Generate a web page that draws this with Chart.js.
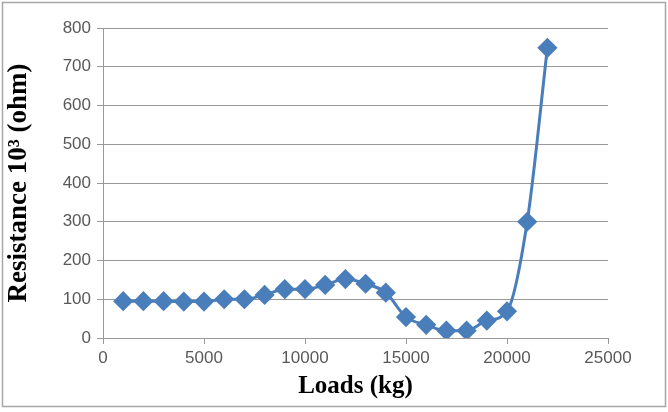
<!DOCTYPE html>
<html>
<head>
<meta charset="utf-8">
<script src="https://cdn.jsdelivr.net/npm/chart.js@4"></script>
<style>
  html, body { margin: 0; padding: 0; background: #fff; }
  #wrap { width: 668px; height: 412px; }
</style>
</head>
<body>
<div id="wrap"><canvas id="resChart" width="668" height="412"></canvas></div>
<script>
const loads = [1000, 2000, 3000, 4000, 5000, 6000, 7000, 8000, 9000, 10000, 11000,
  12000, 13000, 14000, 15000, 16000, 17000, 18000, 19000, 20000, 21000, 22000];
const resistance = [95, 95, 95, 94, 94, 100, 100, 111, 126, 126, 137,
  152, 140, 117, 54, 34, 19, 19, 45, 69, 300, 749];
const xTicks = [0, 5000, 10000, 15000, 20000, 25000];
const yTicks = [0, 100, 200, 300, 400, 500, 600, 700, 800];

const frame = {
  id: 'frame',
  beforeDraw(chart) {
    const c = chart.ctx;
    c.save();
    c.fillStyle = '#fff';
    c.fillRect(0, 0, chart.width, chart.height);
    c.strokeStyle = '#a6a6a6';
    c.lineWidth = 1.5;
    c.strokeRect(2.5, 2.5, chart.width - 5, chart.height - 8);
    c.restore();
  }
};

const blue = '#4a7ebb';
const tickFont = { family: 'Liberation Sans', size: 17 };
const titleFont = { family: 'Liberation Serif', size: 25, weight: 'bold' };

new Chart(document.getElementById('resChart'), {
  type: 'scatter',
  data: {
    datasets: [{
      data: loads.map((x, i) => ({ x, y: resistance[i] })),
      showLine: true,
      borderColor: blue,
      backgroundColor: blue,
      borderWidth: 3,
      cubicInterpolationMode: 'monotone',
      pointStyle: 'rectRot',
      pointRadius: 8,
      pointHoverRadius: 8
    }]
  },
  options: {
    responsive: false,
    animation: false,
    layout: { padding: { left: 3, right: 60, top: 28, bottom: 10 } },
    plugins: { legend: { display: false }, tooltip: { enabled: false } },
    scales: {
      x: {
        type: 'linear',
        min: 0, max: 25000,
        afterBuildTicks: s => { s.ticks = xTicks.map(v => ({ value: v })); },
        afterFit: s => { s.height = 64; },
        grid: { color: 'transparent', tickColor: '#999', tickLength: 6 },
        border: { color: '#999' },
        ticks: { font: tickFont, color: '#595959', padding: 4, maxRotation: 0, callback: v => String(v) },
        title: { display: true, text: 'Loads (kg)', font: titleFont, color: '#000', padding: 0 }
      },
      y: {
        min: 0, max: 800,
        afterBuildTicks: s => { s.ticks = yTicks.map(v => ({ value: v })); },
        afterFit: s => { s.width = 100; },
        grid: { color: '#999', tickColor: '#999', tickLength: 6 },
        border: { color: '#999' },
        ticks: { font: tickFont, color: '#595959', padding: 6, callback: v => String(v) },
        title: { display: true, text: 'Resistance 10³ (ohm)', font: { family: 'Liberation Serif', size: 27, weight: 'bold' }, color: '#000', padding: 0 }
      }
    }
  },
  plugins: [frame]
});
</script>
</body>
</html>
